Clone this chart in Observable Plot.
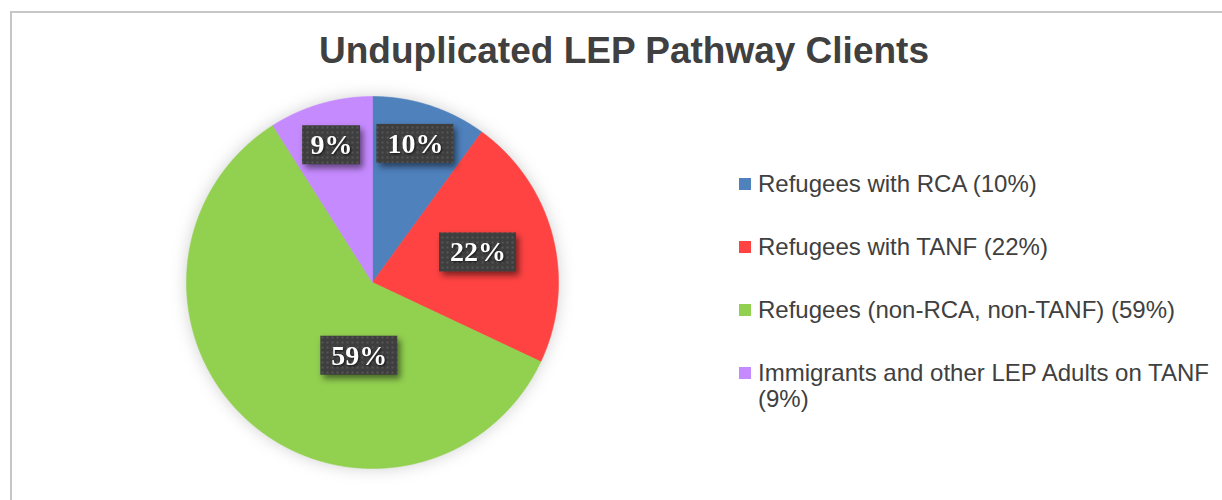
<!DOCTYPE html>
<html>
<head>
<meta charset="utf-8">
<script src="https://cdn.jsdelivr.net/npm/d3@7"></script>
<script src="https://cdn.jsdelivr.net/npm/@observablehq/plot@0.6"></script>
<style>
  html, body { margin: 0; padding: 0; background: #fff; width: 1222px; height: 500px; overflow: hidden; }
  #frame { position: absolute; left: 10px; top: 11px; width: 1400px; height: 700px; border: 2px solid #c6c6c6; box-sizing: border-box; }
  #chart { position: absolute; left: 0; top: 0; }
  #title { position: absolute; left: 0; top: 32px; width: 1248px; text-align: center;
           font-family: "Liberation Sans", Arial, sans-serif; font-weight: bold; font-size: 37px; line-height: 37px; color: #404040; }
  #legend { position: absolute; left: 739px; top: 171px; display: flex; flex-direction: column; gap: 37px;
            font-family: "Liberation Sans", Arial, sans-serif; font-size: 24px; line-height: 26px; color: #404040; }
  .item { display: flex; align-items: flex-start; }
  .sw { width: 12px; height: 12px; margin-top: 7px; margin-right: 7px; flex: none; }
  .lt { width: 465px; }
  .pie g[aria-label="line"] { filter: drop-shadow(0 0 8px rgba(0,0,0,0.18)); }
  .pie g[aria-label="rect"] { filter: drop-shadow(3px 4px 3px rgba(0,0,0,0.5)); }
  .pie g[aria-label="text"] { filter: drop-shadow(1px 1px 1px rgba(0,0,0,0.7)); }
</style>
</head>
<body>
<div id="frame"></div>
<div id="chart"></div>
<div id="title"></div>
<div id="legend"></div>
<script>
// ---- data ----
const title = "Unduplicated LEP Pathway Clients";
const categories = [
  "Refugees with RCA",
  "Refugees with TANF",
  "Refugees (non-RCA, non-TANF)",
  "Immigrants and other LEP Adults on TANF"
];
const values = [10, 22, 59, 9];
const valueLabels = ["10%", "22%", "59%", "9%"];
const colors = ["#4f81bd", "#ff4343", "#92d050", "#c68aff"];

// ---- layout (label placement: fraction of radius, angle offset from slice middle in degrees) ----
const labelLayout = [
  {r: 0.78, da: -0.8},
  {r: 0.59, da: -1.5},
  {r: 0.40, da: -31.2},
  {r: 0.77, da: -0.4}
];
const R = 186; // pixel radius used for box sizes

const total = d3.sum(values);
const rad = Math.PI / 180;
let cum = 0;
const slices = categories.map((name, i) => {
  const a0 = cum / total * 360;
  cum += values[i];
  const a1 = cum / total * 360;
  return {name, value: values[i], label: valueLabels[i], a0, a1};
});

// arc outline points for each slice (angle clockwise from top)
const pts = [];
for (const s of slices) {
  pts.push({name: s.name, x: 0, y: 0});
  const n = Math.max(2, Math.ceil((s.a1 - s.a0) / 0.25));
  for (let k = 0; k <= n; k++) {
    const a = (s.a0 + (s.a1 - s.a0) * k / n) * rad;
    pts.push({name: s.name, x: Math.sin(a), y: Math.cos(a)});
  }
  pts.push({name: s.name, x: 0, y: 0});
}

// label anchors
const labels = slices.map((s, i) => {
  const a = ((s.a0 + s.a1) / 2 + labelLayout[i].da) * rad;
  const r = labelLayout[i].r;
  const w = (20 + 19 * s.label.length) / R / 2;
  const h = 39 / R / 2;
  const x = r * Math.sin(a), y = r * Math.cos(a);
  return {label: s.label, x, y, x1: x - w, x2: x + w, y1: y - h, y2: y + h};
});

const plot = Plot.plot({
  width: 1222,
  height: 500,
  margin: 0,
  className: "pie",
  style: {background: "transparent", overflow: "visible"},
  x: {domain: [-1, 1], range: [186, 558], axis: null},
  y: {domain: [-1, 1], range: [468, 96], axis: null},
  color: {domain: categories, range: colors},
  marks: [
    Plot.line(pts, {x: "x", y: "y", z: "name", fill: "name", stroke: "name", strokeWidth: 0.6, curve: "linear"}),
    Plot.rect(labels, {x1: "x1", x2: "x2", y1: "y1", y2: "y2", fill: "url(#dots)"}),
    Plot.text(labels, {x: "x", y: "y", text: "label", fill: "white", fontSize: 28,
      fontFamily: "Liberation Serif, serif", fontWeight: "bold"})
  ]
});

// dotted pattern for label boxes
const svgNS = "http://www.w3.org/2000/svg";
const defs = document.createElementNS(svgNS, "defs");
defs.innerHTML = '<pattern id="dots" width="5" height="5" patternUnits="userSpaceOnUse">' +
  '<rect width="5" height="5" fill="#3e3e3e"/><rect x="1.5" y="1.5" width="2" height="2" fill="#565656"/></pattern>';
plot.insertBefore(defs, plot.firstChild);
document.getElementById("chart").appendChild(plot);

document.getElementById("title").textContent = title;

const legend = d3.select("#legend");
slices.forEach((s, i) => {
  const it = legend.append("div").attr("class", "item");
  it.append("div").attr("class", "sw").style("background", colors[i]);
  it.append("div").attr("class", "lt").text(`${s.name} (${s.label})`);
});
</script>
</body>
</html>
